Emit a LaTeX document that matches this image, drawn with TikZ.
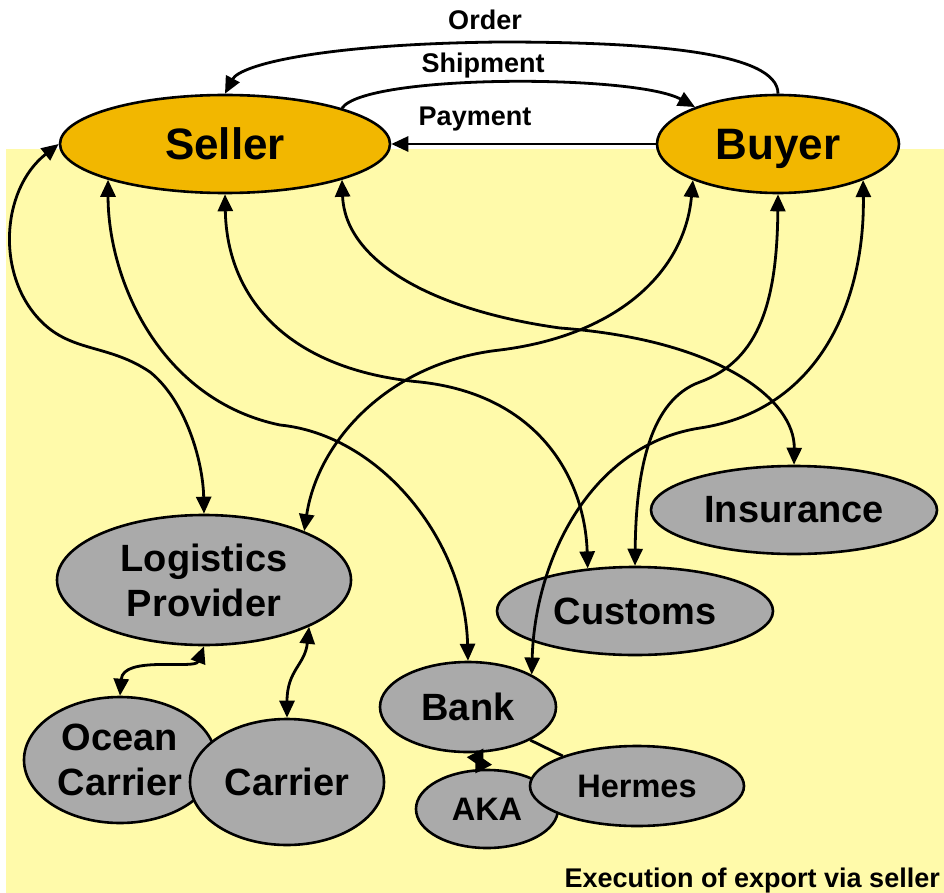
\documentclass[tikz,border=0pt]{standalone}
\usepackage{fontspec}
\setmainfont{Liberation Sans}
\usetikzlibrary{shapes.geometric,arrows.meta}
\definecolor{bgyellow}{RGB}{255,250,170}
\definecolor{mainorange}{RGB}{242,183,0}
\definecolor{nodegray}{RGB}{170,170,170}
\tikzset{
  mainnode/.style={ellipse, draw=black, line width=2.6pt, fill=mainorange, inner sep=0pt,
    font=\fontsize{44}{50}\selectfont\bfseries},
  partnode/.style={ellipse, draw=black, line width=2.6pt, fill=nodegray, inner sep=0pt,
    align=center, font=\fontsize{38}{45}\selectfont\bfseries},
  smallnode/.style={partnode, font=\fontsize{32.5}{38}\selectfont\bfseries},
  flowlabel/.style={font=\fontsize{27}{30}\selectfont\bfseries, inner sep=0pt},
  conn/.style={line width=2.8pt, draw=black},
  oneway/.style={conn, -{Triangle[length=17pt,width=15pt]}},
  twoway/.style={conn, {Triangle[length=17pt,width=15pt]}-{Triangle[length=17pt,width=15pt]}},
  bowtie/.style={conn, {Triangle[length=18pt,width=18pt]}-{Triangle[length=18pt,width=18pt]}}
}
\begin{document}
\begin{tikzpicture}[x=1pt,y=-1pt]
\useasboundingbox (0,0) rectangle (944,893);
\fill[bgyellow] (6,149) rectangle (944,893);

% main nodes
\node[mainnode, minimum width=330, minimum height=98] (seller) at (225,144) {Seller};
\node[mainnode, minimum width=242, minimum height=98, text depth=0pt] (buyer) at (778,144) {Buyer};

% partner nodes
\node[partnode, minimum width=294, minimum height=130] (logi) at (204,580) {Logistics\\Provider};
\node[partnode, minimum width=286, minimum height=88] (insurance) at (794,510) {Insurance};
\node[partnode, minimum width=276, minimum height=88] (customs) at (635,611) {Customs};
\node[partnode, minimum width=176, minimum height=90] (bank) at (468,707) {Bank};
\node[partnode, minimum width=192, minimum height=126] (ocean) at (120,760) {Ocean\\Carrier};
\node[partnode, minimum width=194, minimum height=126] (carrier) at (287,782) {Carrier};
\node[smallnode, minimum width=142, minimum height=78] (aka) at (487,809) {AKA};
\node[smallnode, minimum width=214, minimum height=80] (hermes) at (637,786) {Hermes};

% flow labels
\node[flowlabel] (lorder) at (485,20) {Order};
\node[flowlabel] (lship) at (483,66) {Shipment};
\node[flowlabel] (lpay) at (475,119) {Payment};
\node[flowlabel, anchor=base east] (caption) at (940,887) {Execution of export via seller};

% top flows
\draw[oneway] (buyer.north) .. controls (778,52) and (650,42) .. (500,42)
  .. controls (320,44) and (240,65) .. (seller.north);
\draw[oneway] (seller.17) .. controls (365,74) and (635,74) .. (buyer.156);
\draw[oneway] (buyer.west) -- (seller.east);

% seller connections
\draw[twoway] (seller.west) .. controls (0,190) and (-5,280) .. (45,325)
  .. controls (75,352) and (110,345) .. (150,372)
  .. controls (185,400) and (203,460) .. (logi.north);
\draw[twoway] (seller.197) .. controls (108,280) and (160,400) .. (280,425)
  .. controls (380,435) and (465,540) .. (bank.north);
\draw[twoway] (seller.south) .. controls (227,300) and (290,370) .. (420,382)
  .. controls (540,395) and (585,480) .. (customs.138);
\draw[twoway] (seller.343) .. controls (345,260) and (430,310) .. (560,328)
  .. controls (720,340) and (795,400) .. (insurance.north);

% buyer connections
\draw[twoway] (buyer.203) .. controls (685,270) and (620,335) .. (500,350)
  .. controls (390,362) and (318,440) .. (logi.26);
\draw[twoway] (buyer.south) .. controls (777,300) and (760,360) .. (700,382)
  .. controls (650,400) and (636,470) .. (customs.north);
\draw[twoway] (buyer.337) .. controls (865,300) and (820,410) .. (700,428)
  .. controls (590,445) and (535,560) .. (bank.27);

% lower connections
\draw[twoway] (logi.south) .. controls (195,670) and (123,655) .. (ocean.north);
\draw[twoway] (logi.336) .. controls (305,665) and (287,670) .. (carrier.north);
\draw[bowtie] (bank.279) -- (aka.95);
\draw[conn] (bank.332) -- (hermes.158.6);
\end{tikzpicture}
\end{document}
